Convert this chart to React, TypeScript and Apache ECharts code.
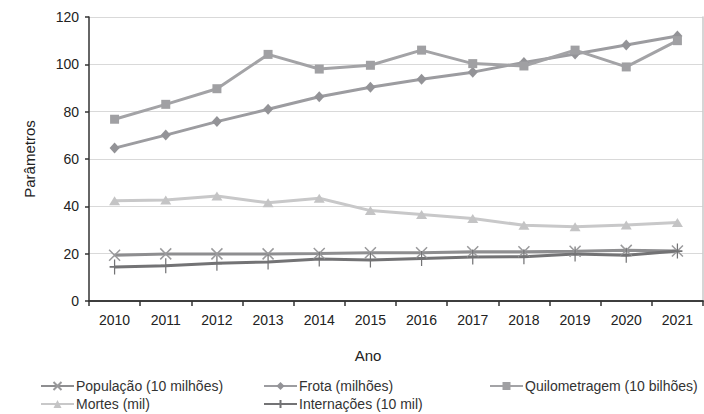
import React, { useEffect, useRef } from "react";
import * as echarts from "echarts";

const years = ["2010", "2011", "2012", "2013", "2014", "2015", "2016", "2017", "2018", "2019", "2020", "2021"];
const populacao = [19.3, 19.9, 19.9, 19.9, 20.1, 20.4, 20.4, 20.8, 20.8, 21.0, 21.4, 21.1];
const frota = [64.6, 70.1, 75.8, 81.0, 86.3, 90.3, 93.7, 96.7, 100.8, 104.4, 108.2, 112.0];
const quilometragem = [76.8, 83.1, 89.7, 104.2, 98.0, 99.6, 106.0, 100.3, 99.3, 106.0, 98.9, 110.0];
const mortes = [42.4, 42.7, 44.4, 41.5, 43.4, 38.2, 36.6, 34.9, 32.0, 31.4, 32.1, 33.2];
const internacoes = [14.4, 14.9, 15.9, 16.5, 17.7, 17.3, 18.0, 18.6, 18.7, 19.9, 19.3, 21.1];

const names = [
  "População (10 milhões)",
  "Frota (milhões)",
  "Quilometragem (10 bilhões)",
  "Mortes (mil)",
  "Internações (10 mil)",
];

export default function App() {
  const ref = useRef<HTMLDivElement>(null);
  useEffect(() => {
    if (!ref.current) return;
    const chart = echarts.init(ref.current, null, { renderer: "svg" });
    const font = "Liberation Sans, Arial, sans-serif";
    const legendBase = (name: string, left: number, top: number) => ({
      data: [name],
      left,
      top,
      orient: "horizontal",
      itemWidth: 33,
      itemHeight: 10,
      itemGap: 0,
      padding: 0,
      textStyle: { fontFamily: font, fontSize: 14, color: "#333", padding: [0, 0, 0, -3] },
      selectedMode: false,
    });
    const mkSeries = (
      name: string,
      data: number[],
      color: string,
      symbol: string,
      symbolSize: any,
      markerColor: string,
      stroke = false
    ) => ({
      name,
      type: "line",
      data,
      symbol,
      symbolSize,
      showSymbol: true,
      lineStyle: { color, width: 3 },
      itemStyle: stroke
        ? { color: markerColor, borderColor: markerColor, borderWidth: 1.5 }
        : { color: markerColor },
      emphasis: { disabled: true },
      z: 2,
    });
    chart.setOption({
      animation: false,
      backgroundColor: "#ffffff",
      textStyle: { fontFamily: font },
      grid: { left: 89, right: 1, top: 17, bottom: 113 },
      legend: [
        legendBase(names[0], 40, 379),
        legendBase(names[1], 263, 379),
        legendBase(names[2], 489, 379),
        legendBase(names[3], 40, 397),
        legendBase(names[4], 263, 397),
      ],
      xAxis: [
        {
          type: "category",
          data: years,
          boundaryGap: true,
          name: "Ano",
          nameLocation: "middle",
          nameGap: 47,
          nameTextStyle: { fontFamily: font, fontSize: 15, color: "#222", padding: [0, 56, 0, 0] },
          axisLine: { lineStyle: { color: "#333", width: 1.5 } },
          axisTick: { show: true, interval: 0, length: 5, lineStyle: { color: "#333", width: 1.5 } },
          axisLabel: { interval: 0, margin: 12, fontFamily: font, fontSize: 14, color: "#222" },
          splitLine: { show: false },
        },
        {
          type: "category",
          data: years,
          position: "top",
          axisLine: { show: true, lineStyle: { color: "#333", width: 1.5 } },
          axisTick: { show: false },
          axisLabel: { show: false },
          splitLine: { show: false },
        },
      ],
      yAxis: [
        {
          type: "value",
          min: 0,
          max: 120,
          interval: 20,
          name: "Parâmetros",
          nameLocation: "middle",
          nameGap: 52,
          nameTextStyle: { fontFamily: font, fontSize: 15, color: "#222" },
          axisLine: { show: true, lineStyle: { color: "#333", width: 1.5 } },
          axisTick: { show: true, length: 4, lineStyle: { color: "#333", width: 1.5 } },
          axisLabel: { margin: 10, fontFamily: font, fontSize: 14, color: "#222" },
          splitLine: { show: true, lineStyle: { color: "#d9d9d9", width: 1 } },
        },
        {
          type: "value",
          min: 0,
          max: 120,
          interval: 20,
          position: "right",
          axisLine: { show: true, lineStyle: { color: "#c8c8c8", width: 1.5 } },
          axisTick: { show: false },
          axisLabel: { show: false },
          splitLine: { show: false },
        },
      ],
      series: [
        mkSeries(names[0], populacao, "#8e8e90", "path://M0,0L10,10M10,0L0,10", [11, 11], "#9a9a9c", true),
        mkSeries(names[1], frota, "#9c9ca0", "diamond", [10, 11], "#939397"),
        mkSeries(names[2], quilometragem, "#a3a3a6", "rect", 9, "#a0a0a3"),
        mkSeries(names[3], mortes, "#c8c8c9", "triangle", [11, 9], "#c4c4c5"),
        mkSeries(names[4], internacoes, "#737375", "path://M5,0L5,16M0,8L10,8", [10, 15], "#737375", true),
      ],
    });
    return () => chart.dispose();
  }, []);
  return <div ref={ref} style={{ width: 704, height: 414, position: "absolute", left: 0, top: 0 }} />;
}
